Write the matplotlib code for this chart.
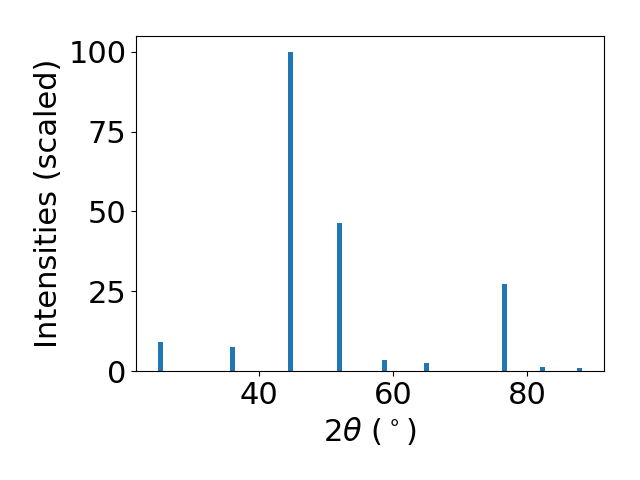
import matplotlib
matplotlib.use("Agg")
import matplotlib.pyplot as plt

# peak positions (2theta, degrees) and scaled intensities
two_theta = [25.3, 36.1, 44.7, 52.0, 58.7, 65.0, 76.6, 82.3, 87.8]
intensity = [9.1, 7.5, 100.0, 46.4, 3.4, 2.5, 27.3, 1.25, 0.95]

plt.rcParams['font.size'] = 22

fig, ax = plt.subplots(figsize=(6.4, 4.8), dpi=100)
ax.bar(two_theta, intensity, width=0.75)
ax.set_xlabel(r'$2\theta$ ($^\circ$)')
ax.set_ylabel('Intensities (scaled)')
ax.set_yticks([0, 25, 50, 75, 100])

fig.subplots_adjust(left=0.213, right=0.943, top=0.925, bottom=0.227)
fig.savefig('out.png')
